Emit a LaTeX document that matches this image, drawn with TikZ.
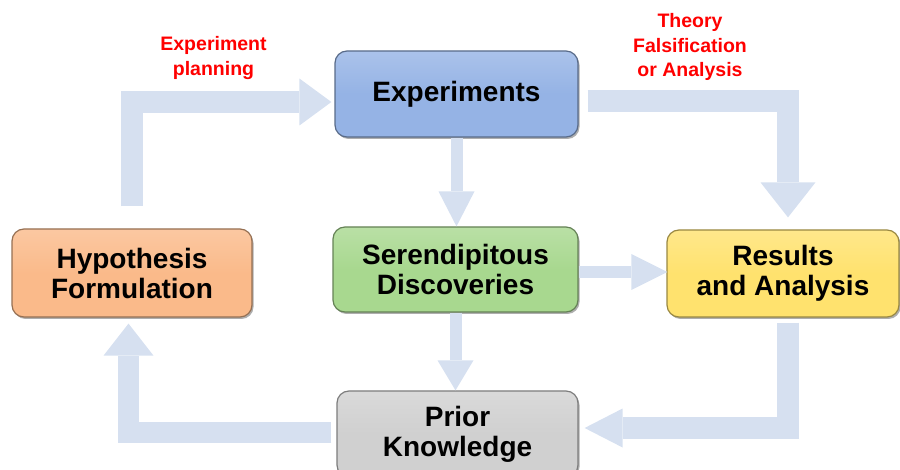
\documentclass[tikz,border=0pt]{standalone}
\usepackage{fontspec}
\setmainfont{Liberation Sans}
\usetikzlibrary{arrows.meta,shadows,calc}
\definecolor{arrowc}{RGB}{214,224,240}
\definecolor{expc}{RGB}{149,179,229}
\definecolor{hypc}{RGB}{250,186,138}
\definecolor{serc}{RGB}{168,216,143}
\definecolor{resc}{RGB}{255,226,110}
\definecolor{pric}{RGB}{208,208,208}
\definecolor{labc}{RGB}{255,0,0}
\tikzset{
  box/.style={rounded corners=12pt, align=center, inner sep=0pt,
    font=\bfseries\fontsize{28}{30}\selectfont, text=black, line width=1.2pt,
    drop shadow={shadow xshift=1.5pt, shadow yshift=-2pt, opacity=0.45, fill=black!70}},
  colbox/.style={box, draw=#1!60!black, top color=#1!80!white, bottom color=#1, middle color=#1},
  lab/.style={text=labc, align=center, font=\bfseries\fontsize{19.5}{24.5}\selectfont},
  fat/.style={draw=arrowc, line width=22pt, line join=miter},
  thin/.style={draw=arrowc, line width=12pt}
}
\begin{document}
\begin{tikzpicture}[x=1pt,y=-1pt]
\useasboundingbox (0,0) rectangle (900,470);
% nodes
\node[colbox=expc, minimum width=243pt, minimum height=86pt] (exp) at (456.5,94) {Experiments};
\node[colbox=hypc, minimum width=240pt, minimum height=88pt] (hyp) at (132,273) {Hypothesis\\Formulation};
\node[colbox=serc, minimum width=245pt, minimum height=85pt] (ser) at (455.5,269.5) {Serendipitous\\Discoveries};
\node[colbox=resc, minimum width=232pt, minimum height=87pt] (res) at (783,273.5) {Results\\and Analysis};
\node[colbox=pric, minimum width=241pt, minimum height=86pt] (pri) at (457.5,434) {Prior\\Knowledge};
% labels
\node[lab] (l1) at (213.5,58) {Experiment\\planning};
\node[lab] (l2) at (690,47) {Theory\\Falsification\\or Analysis};
% arrows
\draw[fat, -{Triangle[length=32pt,width=47pt,line width=0pt]}]
  ($(hyp.north)+(0,-22)$) |- ($(exp.west)+(-3,8)$);
\draw[fat, -{Triangle[length=35pt,width=55pt,line width=0pt]}]
  ($(exp.east)+(9,7)$) -| ($(res.north)+(5,-12)$);
\draw[thin, -{Triangle[length=35pt,width=36pt,line width=0pt]}]
  (exp.south) -- (exp.south |- ser.north);
\draw[thin, -{Triangle[length=36pt,width=36pt,line width=0pt]}]
  ($(ser.east)+(0,2.5)$) -- ($(res.west)+(1,-1.5)$);
\draw[thin, -{Triangle[length=30pt,width=36pt,line width=0pt]}]
  (ser.south) -- (ser.south |- pri.north);
\draw[fat, -{Triangle[length=38pt,width=39pt,line width=0pt]}]
  ($(res.south)+(5,5)$) |- ($(pri.east)+(6,-6)$);
\draw[fat, line width=21pt, -{Triangle[length=32pt,width=50pt,line width=0pt]}]
  ($(pri.west)+(-5,-2)$) -| ($(hyp.south)+(-3.5,6)$);
\end{tikzpicture}
\end{document}
